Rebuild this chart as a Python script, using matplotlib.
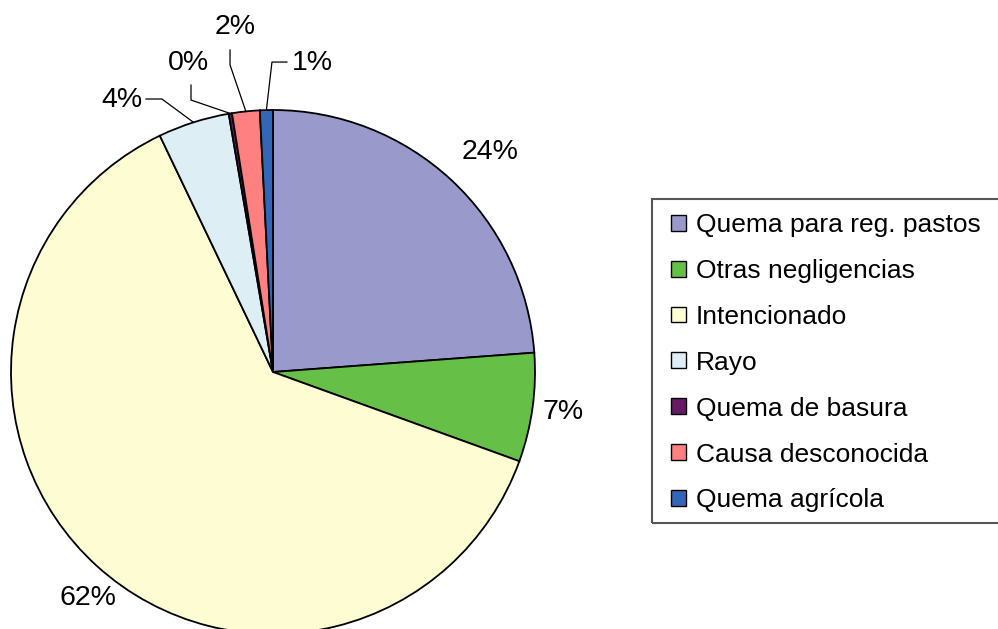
import numpy as np
import matplotlib.pyplot as plt
from matplotlib.patches import Rectangle

plt.rcParams['font.family'] = ['Liberation Sans', 'DejaVu Sans']

# Datos (porcentaje de incendios por causa)
causas = ["Quema para reg. pastos", "Otras negligencias", "Intencionado", "Rayo",
          "Quema de basura", "Causa desconocida", "Quema agrícola"]
valores = [23.8, 6.7, 62.3, 4.4, 0.2, 1.7, 0.8]
colores = ["#9999CC", "#66BF46", "#FDFCD3", "#DDEEF5", "#661A66", "#FF8080", "#3366B6"]

# Posición de las etiquetas grandes
etiq_grande = {0: (0.828, 0.840), 1: (1.107, -0.153), 2: (-0.706, -0.863)}
# Etiquetas de las porciones pequeñas: (texto, inicio de línea, codo)
etiq_peq = {
    3: ((-0.576, 1.038), (-0.485, 1.042), (-0.424, 1.042)),
    4: ((-0.321, 1.179), (-0.313, 1.095), (-0.313, 1.038)),
    5: ((-0.145, 1.317), (-0.164, 1.229), (-0.164, 1.172)),
    6: ((0.149, 1.179), (0.053, 1.183), (-0.004, 1.183)),
}

fig = plt.figure(figsize=(9.98, 6.29), dpi=100)
ax = fig.add_axes([0, 0, 1, 1])

wedges, _ = ax.pie(valores, colors=colores, startangle=90, counterclock=False,
                   wedgeprops=dict(edgecolor="black", linewidth=1.3))

for i, w in enumerate(wedges):
    ang = np.deg2rad((w.theta1 + w.theta2) / 2)
    txt = f"{valores[i]:.0f}%"
    if i in etiq_peq:
        pos, ini, codo = etiq_peq[i]
        px, py = np.cos(ang), np.sin(ang)
        ax.plot([ini[0], codo[0], px], [ini[1], codo[1], py], color="black", lw=0.9)
    else:
        pos = etiq_grande[i]
    ax.text(pos[0], pos[1], txt, ha="center", va="center", fontsize=20.5)

ax.set_xlim(-273 / 262, (998 - 273) / 262)
ax.set_ylim((372 - 629) / 262, 372 / 262)
ax.set_aspect("equal")
ax.axis("off")

# marco de la leyenda (se sale por la derecha, como en el original)
fig.patches.append(Rectangle((652 / 998, 1 - 523 / 629), 360 / 998, 324 / 629,
                             transform=fig.transFigure, fill=False,
                             edgecolor="#555555", linewidth=1.5))

leg = ax.legend(wedges, causas, loc="upper left", bbox_to_anchor=(671 / 998, 1 - 213 / 629),
                bbox_transform=fig.transFigure, fontsize=19, frameon=False,
                handlelength=0.55, handleheight=0.55, handletextpad=0.4,
                labelspacing=0.83, borderpad=0, borderaxespad=0)
for h in leg.legend_handles:
    h.set_linewidth(1.0)

fig.savefig("out.png", dpi=100)
